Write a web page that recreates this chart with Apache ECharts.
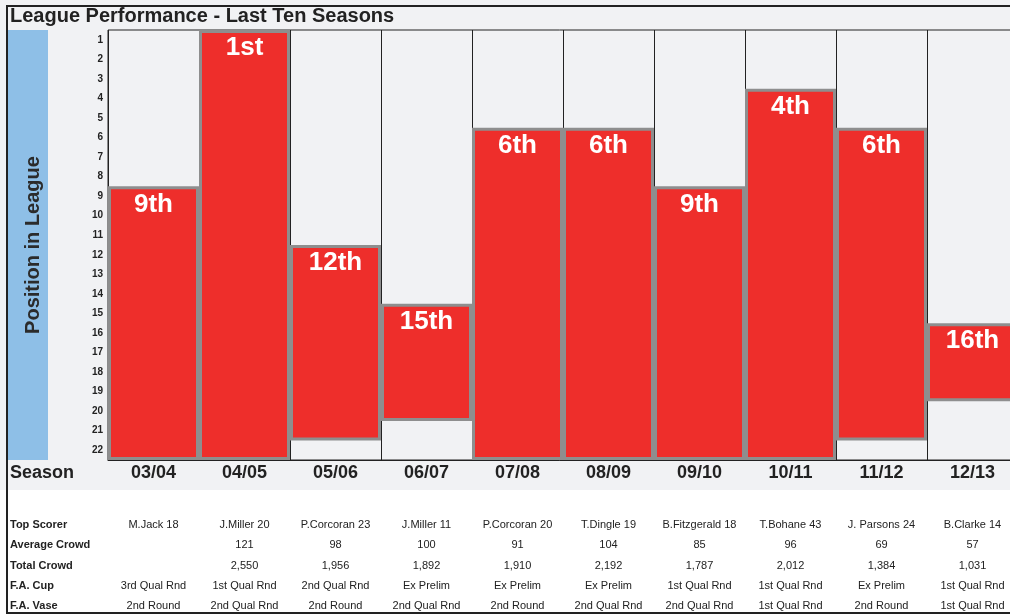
<!DOCTYPE html>
<html>
<head>
<meta charset="utf-8">
<script src="https://cdn.jsdelivr.net/npm/echarts@6/dist/echarts.min.js"></script>
<style>
html,body{margin:0;padding:0;background:#fff;}
#chart{width:1010px;height:616px;}
</style>
</head>
<body>
<div id="chart"></div>
<script>
const seasons = ['03/04','04/05','05/06','06/07','07/08','08/09','09/10','10/11','11/12','12/13'];
const positions = [9,1,12,15,6,6,9,4,6,16];
const leagueSizes = [22,22,21,20,22,22,22,22,21,19];
const positionTicks = ['1','2','3','4','5','6','7','8','9','10','11','12','13','14','15','16','17','18','19','20','21','22'];
const topScorers = ['M.Jack 18','J.Miller 20','P.Corcoran 23','J.Miller 11','P.Corcoran 20','T.Dingle 19','B.Fitzgerald 18','T.Bohane 43','J. Parsons 24','B.Clarke 14'];
const averageCrowd = ['','121','98','100','91','104','85','96','69','57'];
const totalCrowd = ['','2,550','1,956','1,892','1,910','2,192','1,787','2,012','1,384','1,031'];
const faCup = ['3rd Qual Rnd','1st Qual Rnd','2nd Qual Rnd','Ex Prelim','Ex Prelim','Ex Prelim','1st Qual Rnd','1st Qual Rnd','Ex Prelim','1st Qual Rnd'];
const faVase = ['2nd Round','2nd Qual Rnd','2nd Round','2nd Qual Rnd','2nd Round','2nd Qual Rnd','2nd Qual Rnd','1st Qual Rnd','2nd Round','1st Qual Rnd'];

function ordinal(n){
  const s = ['th','st','nd','rd'], v = n % 100;
  return n + (s[(v-20)%10] || s[v] || s[0]);
}

const FONT = '"Liberation Sans", Arial, sans-serif';
const TXT = '#222';

function tableAxis(name, data, offset){
  return {
    type:'category', gridIndex:0, position:'bottom', offset:offset, data:data,
    axisLine:{show:false}, axisTick:{show:false}, splitLine:{show:false},
    axisLabel:{interval:0, margin:0, verticalAlign:'middle', fontSize:11, color:TXT, fontFamily:FONT},
    name:name, nameLocation:'start', nameGap:98,
    nameTextStyle:{align:'left', verticalAlign:'middle', fontSize:11, fontWeight:'bold', color:TXT, fontFamily:FONT}
  };
}

const chart = echarts.init(document.getElementById('chart'), null, {renderer:'canvas'});
chart.setOption({
  animation:false,
  backgroundColor:{type:'linear', x:0, y:0, x2:0, y2:1, colorStops:[
    {offset:0, color:'#f1f2f4'}, {offset:0.795, color:'#f1f2f4'},
    {offset:0.795, color:'#ffffff'}, {offset:1, color:'#ffffff'}]},
  textStyle:{fontFamily:FONT},
  graphic:[
    {type:'rect', z:-10, shape:{x:7, y:6, width:1010, height:607}, style:{fill:null, stroke:'#222', lineWidth:2}},
    {type:'rect', z:-5, shape:{x:8, y:30, width:40, height:430}, style:{fill:'#8ebfe7'}},
    {type:'text', x:33, y:245, rotation:Math.PI/2, style:{text:'Position in League', fill:'#2b2b2b', font:'bold 20px ' + FONT, textAlign:'center', textVerticalAlign:'middle'}},
    {type:'text', x:10, y:16, style:{text:'League Performance - Last Ten Seasons', fill:TXT, font:'bold 20px ' + FONT, textAlign:'left', textVerticalAlign:'middle'}}
  ],
  grid:{left:108, top:30, width:910, bottom:156, show:true, borderColor:'#222', borderWidth:1, backgroundColor:'transparent', outerBoundsMode:'none', containLabel:false},
  xAxis:[
    {type:'category', data:seasons, gridIndex:0, position:'bottom',
     axisLine:{show:true, lineStyle:{color:'#222', width:1}}, axisTick:{show:false},
     axisLabel:{show:false},
     splitLine:{show:true, interval:0, lineStyle:{color:'#222', width:1}}},
    (function(){ const a = tableAxis('Season', seasons, 13);
      a.axisLabel.fontSize = 18; a.axisLabel.fontWeight = 'bold';
      a.nameTextStyle.fontSize = 18; return a; })(),
    tableAxis('Top Scorer', topScorers, 65),
    tableAxis('Average Crowd', averageCrowd, 85),
    tableAxis('Total Crowd', totalCrowd, 106),
    tableAxis('F.A. Cup', faCup, 126),
    tableAxis('F.A. Vase', faVase, 146)
  ],
  yAxis:[
    {type:'value', inverse:true, min:0.5, max:22.5, axisLabel:{show:false}, axisLine:{show:false}, axisTick:{show:false}, splitLine:{show:false}},
    {type:'category', inverse:true, data:positionTicks, position:'left', axisLine:{show:false}, axisTick:{show:false}, splitLine:{show:false},
     axisLabel:{interval:0, margin:5, fontSize:10, fontWeight:'bold', color:TXT, fontFamily:FONT}}
  ],
  series:[
    {type:'bar', stack:'league', xAxisIndex:0, yAxisIndex:0, silent:true,
     itemStyle:{color:'transparent'}, barWidth:'100%', barGap:'0%',
     data:positions.map(p => p - 0.5)},
    {type:'bar', stack:'league', xAxisIndex:0, yAxisIndex:0, barWidth:'100%', barGap:'0%',
     itemStyle:{color:'#ee2e2b', borderColor:'#8e8e8e', borderWidth:3},
     label:{show:true, position:'insideTop', distance:5, color:'#fff', fontSize:26, fontWeight:'bold', fontFamily:FONT,
       formatter:p => ordinal(positions[p.dataIndex])},
     data:positions.map((p,i) => leagueSizes[i] - p + 1)}
  ]
});
</script>
</body>
</html>
